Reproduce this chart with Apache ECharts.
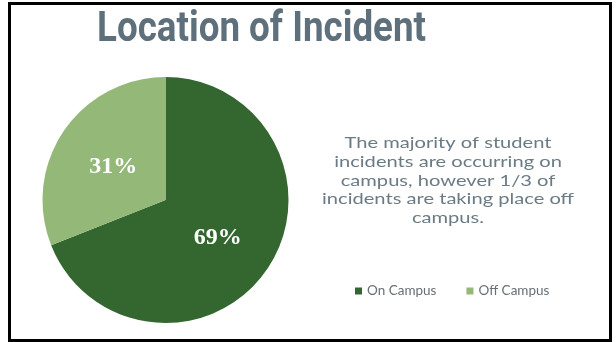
<!DOCTYPE html>
<html><head><meta charset="utf-8">
<script src="https://cdn.jsdelivr.net/npm/echarts@6/dist/echarts.min.js"></script>
<style>html,body{margin:0;padding:0;background:#fff}#c{width:616px;height:342px}</style>
</head><body><div id="c"></div>
<script>
const categories = ['On Campus', 'Off Campus'];
const values = [69, 31];
const colors = ['#34662f', '#93b878'];
const titleText = 'Location of Incident';
const noteLines = ['The majority of student', 'incidents are occurring on', 'campus, however 1/3 of', 'incidents are taking place off', 'campus.'];

const cv = document.createElement('canvas').getContext('2d');
const titleFont = 'bold 42px Roboto';
cv.font = titleFont;
const sx = 329 / cv.measureText(titleText).width;
const noteFont = '16px Lato';
cv.font = noteFont;
const nsx = 252 / cv.measureText(noteLines[3]).width;
const labelShift = [[-1, 2], [1, 3]];

const chart = echarts.init(document.getElementById('c'), null, {renderer: 'canvas'});
chart.setOption({
  backgroundColor: '#ffffff',
  animation: false,
  legend: {
    data: categories, left: 350, top: 279, itemWidth: 7, itemHeight: 7, itemGap: 30, icon: 'rect',
    textStyle: {fontFamily: 'Lato', fontSize: 13.5, color: '#676f74'}
  },
  graphic: [
    {type: 'rect', shape: {x: 9.5, y: 3.5, width: 601, height: 337}, style: {fill: 'none', stroke: '#000', lineWidth: 3}, z: 100},
    {type: 'text', x: 261.5, y: 30, scaleX: sx, style: {text: titleText, textAlign: 'center', textVerticalAlign: 'middle', font: titleFont, fill: '#5e707b'}},
    {type: 'text', x: 448, y: 133.5, scaleX: nsx, style: {text: noteLines.join('\n'), textAlign: 'center', font: noteFont, fill: '#6b7b85', lineHeight: 18.8}}
  ],
  series: [{
    type: 'pie', center: [165.5, 200], radius: 123, startAngle: 90, clockwise: true,
    label: {show: true, position: 'inside', formatter: '{c}%', color: '#fff', fontFamily: 'Liberation Serif', fontWeight: 'bold', fontSize: 24},
    labelLayout: p => ({dx: labelShift[p.dataIndex][0], dy: labelShift[p.dataIndex][1]}),
    labelLine: {show: false},
    itemStyle: {borderWidth: 0},
    data: categories.map((n, i) => ({name: n, value: values[i], itemStyle: {color: colors[i]}}))
  }]
});
</script></body></html>
